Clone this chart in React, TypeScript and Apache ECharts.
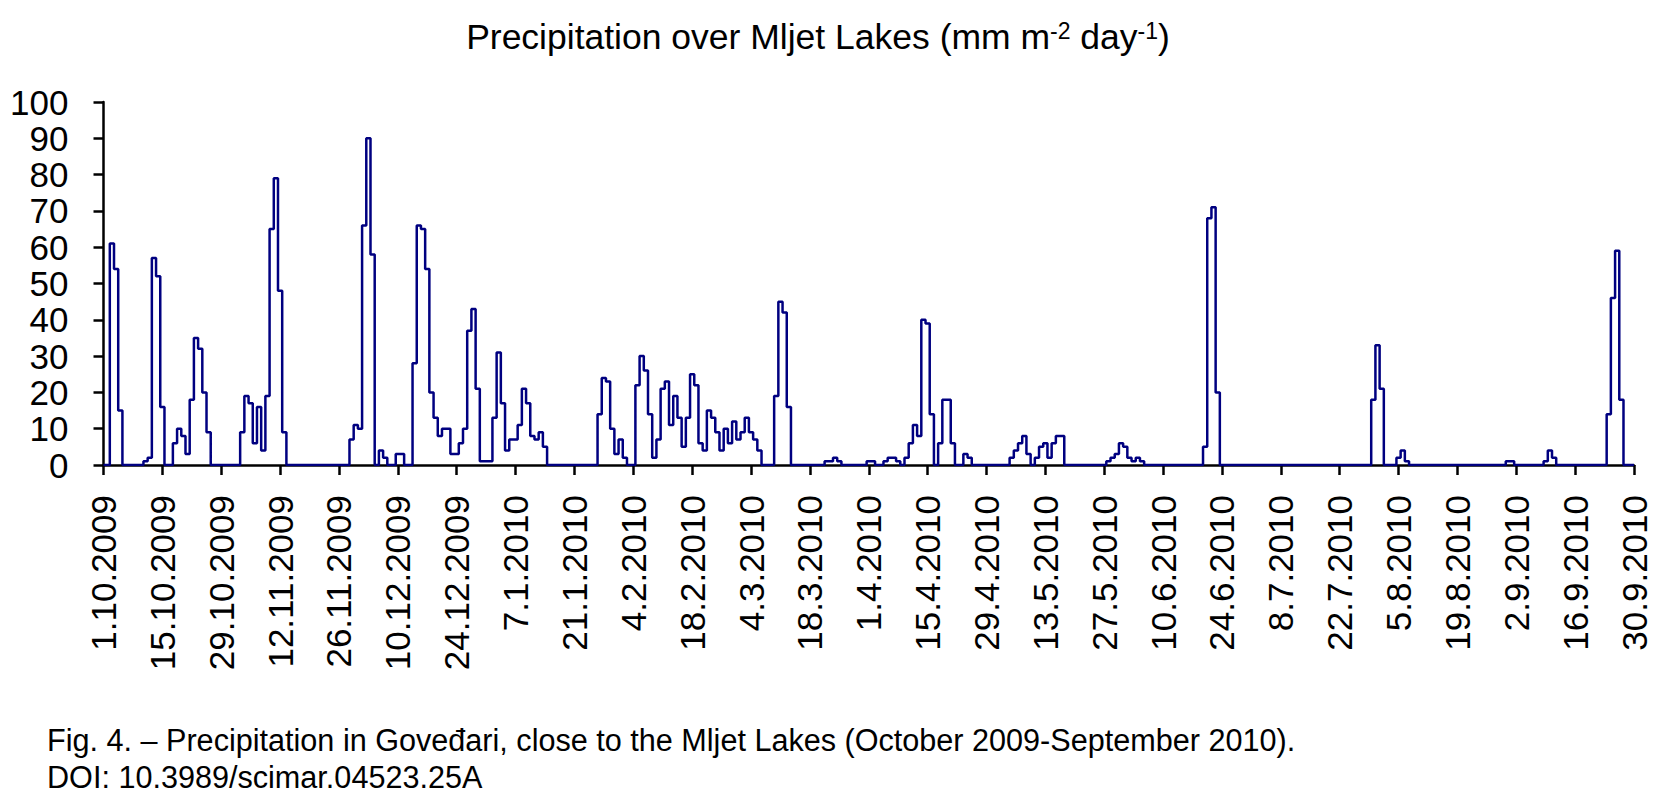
import { useEffect, useRef } from "react";
import * as echarts from "echarts";

// daily precipitation (mm m-2 day-1), one array per month
const oct2009 = [0, 0, 61, 54, 15, 0, 0, 0, 0, 0, 1, 2, 57, 52, 16, 0, 0, 6, 10, 8, 3, 18, 35, 32, 20, 9, 0, 0, 0, 0, 0];
const nov2009 = [0, 0, 9, 19, 17, 6, 16, 4, 19, 65, 79, 48, 9, 0, 0, 0, 0, 0, 0, 0, 0, 0, 0, 0, 0, 0, 0, 0, 7, 11];
const dec2009 = [10, 66, 90, 58, 0, 4, 2, 0, 0, 3, 3, 0, 0, 28, 66, 65, 54, 20, 13, 8, 10, 10, 3, 3, 6, 10, 37, 43, 21, 1, 1];
const jan2010 = [1, 13, 31, 17, 4, 7, 7, 11, 21, 17, 8, 7, 9, 5, 0, 0, 0, 0, 0, 0, 0, 0, 0, 0, 0, 0, 14, 24, 23, 10, 3];
const feb2010 = [7, 2, 0, 0, 22, 30, 26, 14, 2, 7, 21, 23, 11, 19, 13, 5, 13, 25, 22, 6, 4, 15, 13, 9, 4, 10, 6, 12];
const mar2010 = [7, 9, 13, 9, 7, 4, 0, 0, 0, 19, 45, 42, 16, 0, 0, 0, 0, 0, 0, 0, 0, 1, 1, 2, 1, 0, 0, 0, 0, 0, 0];
const apr2010 = [1, 1, 0, 0, 1, 2, 2, 1, 0, 2, 6, 11, 8, 40, 39, 14, 0, 6, 18, 18, 6, 0, 0, 3, 2, 0, 0, 0, 0, 0];
const may2010 = [0, 0, 0, 0, 2, 4, 6, 8, 3, 0, 2, 5, 6, 2, 6, 8, 8, 0, 0, 0, 0, 0, 0, 0, 0, 0, 0, 1, 2, 3, 6];
const jun2010 = [5, 2, 1, 2, 1, 0, 0, 0, 0, 0, 0, 0, 0, 0, 0, 0, 0, 0, 0, 5, 68, 71, 20, 0, 0, 0, 0, 0, 0, 0];
const jul2010 = [0, 0, 0, 0, 0, 0, 0, 0, 0, 0, 0, 0, 0, 0, 0, 0, 0, 0, 0, 0, 0, 0, 0, 0, 0, 0, 0, 0, 0, 18, 33];
const aug2010 = [21, 0, 0, 0, 2, 4, 1, 0, 0, 0, 0, 0, 0, 0, 0, 0, 0, 0, 0, 0, 0, 0, 0, 0, 0, 0, 0, 0, 0, 0, 1];
const sep2010 = [1, 0, 0, 0, 0, 0, 0, 0, 1, 4, 2, 0, 0, 0, 0, 0, 0, 0, 0, 0, 0, 0, 0, 14, 46, 59, 18, 0, 0, 0];

const months = [
  { month: 10, year: 2009, values: oct2009 },
  { month: 11, year: 2009, values: nov2009 },
  { month: 12, year: 2009, values: dec2009 },
  { month: 1, year: 2010, values: jan2010 },
  { month: 2, year: 2010, values: feb2010 },
  { month: 3, year: 2010, values: mar2010 },
  { month: 4, year: 2010, values: apr2010 },
  { month: 5, year: 2010, values: may2010 },
  { month: 6, year: 2010, values: jun2010 },
  { month: 7, year: 2010, values: jul2010 },
  { month: 8, year: 2010, values: aug2010 },
  { month: 9, year: 2010, values: sep2010 },
];

// one category per day, labelled d.m.yyyy
const dates = months.flatMap((m) => m.values.map((_, i) => `${i + 1}.${m.month}.${m.year}`));
const rainfall = months.flatMap((m) => m.values);

const FONT = "'Liberation Sans', Arial, Helvetica, sans-serif";

export default function App() {
  const chartRef = useRef<HTMLDivElement>(null);

  useEffect(() => {
    if (!chartRef.current) return;
    const chart = echarts.init(chartRef.current, null, { renderer: "svg" });

    chart.setOption({
      animation: false,
      backgroundColor: "#ffffff",
      grid: { left: 103.5, top: 102, width: 1530.5, height: 363 },
      xAxis: {
        type: "category",
        data: dates,
        boundaryGap: false,
        axisLine: { lineStyle: { color: "#000", width: 2.5 } },
        axisTick: { interval: 13, length: 10, lineStyle: { color: "#000", width: 2.5 } },
        axisLabel: {
          interval: 13,
          rotate: 90,
          margin: 30,
          color: "#000",
          fontFamily: FONT,
          fontSize: 35,
          lineHeight: 35,
        },
      },
      yAxis: {
        type: "value",
        min: 0,
        max: 100,
        interval: 10,
        splitLine: { show: false },
        axisLine: { show: true, lineStyle: { color: "#000", width: 2.5 } },
        axisTick: { show: true, length: 10, lineStyle: { color: "#000", width: 2.5 } },
        axisLabel: {
          margin: 35,
          color: "#000",
          fontFamily: FONT,
          fontSize: 35,
          lineHeight: 34,
          showMinLabel: true,
          showMaxLabel: true,
        },
      },
      series: [
        {
          type: "line",
          data: rainfall,
          step: "middle",
          symbol: "none",
          lineStyle: { color: "#000080", width: 2.5 },
        },
      ],
      graphic: [
        {
          type: "text",
          x: 818,
          y: 37,
          style: {
            text: "Precipitation over Mljet Lakes (mm m{sup|-2} day{sup|-1})",
            fontFamily: FONT,
            fontSize: 35.5,
            fill: "#000",
            align: "center",
            verticalAlign: "middle",
            rich: {
              sup: { fontFamily: FONT, fontSize: 23, verticalAlign: "top", fill: "#000" },
            },
          },
        },
        {
          type: "text",
          x: 47,
          y: 740,
          style: {
            text: "Fig. 4. – Precipitation in Goveđari, close to the Mljet Lakes (October 2009-September 2010).",
            fontFamily: FONT,
            fontSize: 30.6,
            fill: "#000",
            align: "left",
            verticalAlign: "middle",
          },
        },
        {
          type: "text",
          x: 47,
          y: 777,
          style: {
            text: "DOI: 10.3989/scimar.04523.25A",
            fontFamily: FONT,
            fontSize: 30.6,
            fill: "#000",
            align: "left",
            verticalAlign: "middle",
          },
        },
      ],
    });

    return () => chart.dispose();
  }, []);

  return (
    <div
      ref={chartRef}
      style={{ position: "fixed", left: 0, top: 0, width: 1659, height: 808, background: "#fff" }}
    />
  );
}
